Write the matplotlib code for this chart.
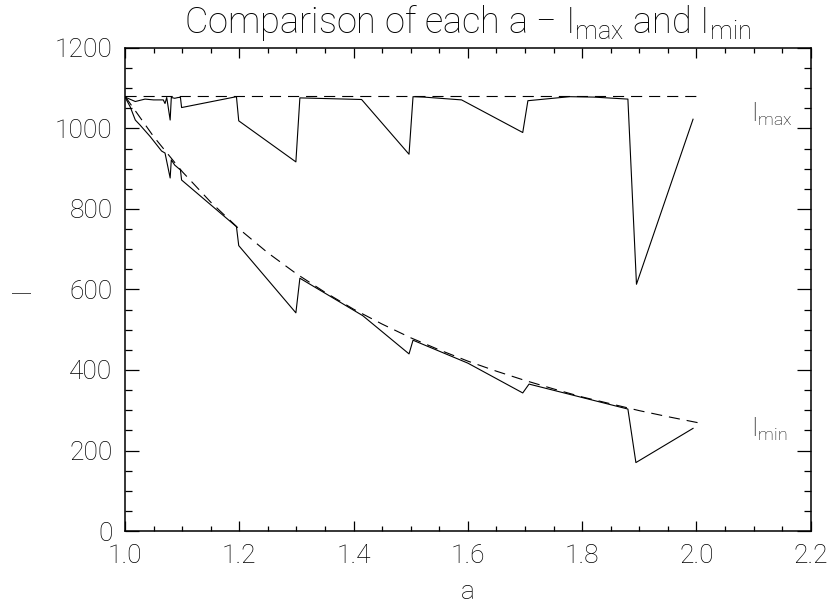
import matplotlib
matplotlib.use("Agg")
import matplotlib.pyplot as plt
from matplotlib.ticker import MultipleLocator

plt.rcParams["font.family"] = ["Roboto", "DejaVu Sans"]
plt.rcParams["font.weight"] = "light"
plt.rcParams["axes.titleweight"] = "light"
plt.rcParams["axes.labelweight"] = "light"
plt.rcParams["mathtext.default"] = "regular"
plt.rcParams["lines.scale_dashes"] = False

# I_max curve: solid run of measured values and the flat reference level
a_max = [1.000, 1.018, 1.035, 1.050, 1.067, 1.070, 1.073, 1.079, 1.081, 1.087,
         1.093, 1.097, 1.099, 1.195, 1.199, 1.299, 1.306, 1.414, 1.497, 1.504,
         1.523, 1.589, 1.696, 1.705, 1.778, 1.820, 1.880, 1.895, 1.994]
i_max = [1078, 1067, 1073, 1071, 1071, 1062, 1077, 1021, 1077, 1075,
         1077, 1077, 1052, 1079, 1019, 917, 1076, 1072, 936, 1079,
         1078, 1071, 990, 1069, 1079, 1078, 1073, 613, 1023]
a_max_ref = [1.0, 2.0]
i_max_ref = [1080, 1080]

# I_min curve: measured values and the smooth reference
a_min = [1.000, 1.009, 1.018, 1.026, 1.044, 1.064, 1.070, 1.079, 1.081, 1.087,
         1.097, 1.099, 1.195, 1.199, 1.299, 1.306, 1.416, 1.497, 1.504, 1.600,
         1.696, 1.707, 1.880, 1.894, 1.994]
i_min = [1078, 1054, 1021, 1009, 980, 944, 939, 877, 922, 909,
         897, 872, 756, 709, 542, 628, 535, 440, 474, 417,
         343, 365, 303, 170, 255]
a_min_ref = [1.00, 1.05, 1.10, 1.15, 1.20, 1.25, 1.30, 1.35, 1.40, 1.45, 1.50,
             1.55, 1.60, 1.65, 1.70, 1.75, 1.80, 1.85, 1.90, 1.95, 2.01]
i_min_ref = [1080, 980, 893, 817, 750, 691, 639, 593, 551, 514, 480,
             450, 422, 397, 374, 353, 333, 316, 299, 284, 267]

fig = plt.figure(figsize=(8.29, 6.05), dpi=100)
ax = fig.add_axes([0.1508, 0.1223, 0.8272, 0.7984])

dash = (0, (8, 5))
ax.plot(a_max, i_max, color="black", lw=0.8)
ax.plot(a_max_ref, i_max_ref, color="black", lw=0.8, linestyle=dash)
ax.plot(a_min, i_min, color="black", lw=0.8)
ax.plot(a_min_ref, i_min_ref, color="black", lw=0.8, linestyle=dash)

ax.text(2.096, 1068, r"I$_{max}$", fontsize=18, va="top", ha="left")
ax.text(2.096, 287, r"I$_{min}$", fontsize=18, va="top", ha="left")

ax.set_xlim(1.0, 2.2)
ax.set_ylim(0, 1200)
ax.xaxis.set_major_locator(MultipleLocator(0.2))
ax.xaxis.set_minor_locator(MultipleLocator(0.05))
ax.yaxis.set_major_locator(MultipleLocator(200))
ax.yaxis.set_minor_locator(MultipleLocator(50))
ax.xaxis.set_major_formatter(plt.FormatStrFormatter("%.1f"))

ax.tick_params(axis="both", which="both", direction="in", top=True, right=True,
               width=0.9, labelsize=19, pad=9)
ax.tick_params(axis="x", which="major", length=7)
ax.tick_params(axis="x", which="minor", length=3.3)
ax.tick_params(axis="y", which="major", length=9.8)
ax.tick_params(axis="y", which="minor", length=4.9)
for s in ax.spines.values():
    s.set_linewidth(1.1)

ax.set_title(r"Comparison of each a $-$ I$_{max}$ and I$_{min}$", fontsize=26, pad=11)
ax.set_xlabel("a", fontsize=19, labelpad=9)
ax.set_ylabel("I", fontsize=19, labelpad=15)

fig.savefig("out.png", dpi=100)
